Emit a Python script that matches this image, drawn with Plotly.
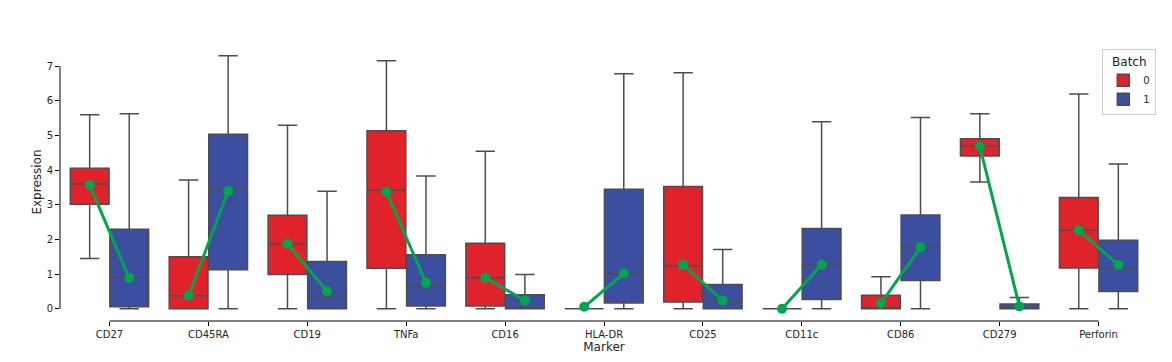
import plotly.graph_objects as go

# marker names on the x axis
markers = ["CD27", "CD45RA", "CD19", "TNFa", "CD16", "HLA-DR", "CD25",
           "CD11c", "CD86", "CD279", "Perforin"]

# batch 0 box stats
b0_low = [1.45, 0, 0, 0, 0, 0, 0, 0, 0, 3.66, 0]
b0_q1 = [3.02, 0, 0.99, 1.17, 0.08, 0, 0.20, 0, 0, 4.41, 1.18]
b0_med = [3.60, 0.38, 1.88, 3.42, 0.90, 0, 1.24, 0, 0, 4.69, 2.27]
b0_q3 = [4.06, 1.50, 2.70, 5.14, 1.89, 0, 3.53, 0, 0.39, 4.91, 3.21]
b0_high = [5.60, 3.72, 5.30, 7.16, 4.55, 0, 6.81, 0, 0.93, 5.63, 6.20]

# batch 1 box stats
b1_low = [0, 0, 0, 0, 0, 0, 0, 0, 0, 0, 0]
b1_q1 = [0.06, 1.13, 0, 0.08, 0, 0.17, 0, 0.27, 0.82, 0, 0.50]
b1_med = [0.93, 3.42, 0.36, 0.65, 0, 1.01, 0.20, 1.27, 1.78, 0, 1.18]
b1_q3 = [2.30, 5.04, 1.37, 1.56, 0.41, 3.45, 0.70, 2.32, 2.71, 0.14, 1.98]
b1_high = [5.63, 7.30, 3.39, 3.83, 0.99, 6.78, 1.71, 5.40, 5.52, 0.33, 4.18]

# green point estimates per batch
pt0 = [3.57, 0.38, 1.88, 3.38, 0.90, 0.06, 1.27, 0.0, 0.16, 4.69, 2.27]
pt1 = [0.89, 3.40, 0.51, 0.75, 0.24, 1.02, 0.24, 1.27, 1.78, 0.07, 1.27]

red = "#e0232a"
blue = "#3c4ea0"
green = "#00a550"
edge = "#4d4d4d"
dodge = 0.2
bw = 0.392

pos = list(range(len(markers)))
x0 = [p - dodge for p in pos]
x1 = [p + dodge for p in pos]

fig = go.Figure()
for name, xs, lo, q1, md, q3, hi, col in [
    ("0", x0, b0_low, b0_q1, b0_med, b0_q3, b0_high, red),
    ("1", x1, b1_low, b1_q1, b1_med, b1_q3, b1_high, blue),
]:
    fig.add_trace(go.Box(
        name=name, x=xs, lowerfence=lo, q1=q1, median=md, q3=q3, upperfence=hi,
        width=bw, whiskerwidth=0.5, boxpoints=False,
        fillcolor=col, line=dict(color=edge, width=1.5),
        hoverinfo="skip",
    ))

# green lines joining the two batches for each marker
lx, ly = [], []
for a, b, v0, v1 in zip(x0, x1, pt0, pt1):
    lx += [a, b, None]
    ly += [v0, v1, None]
fig.add_trace(go.Scatter(
    x=lx, y=ly, mode="lines+markers", showlegend=False,
    line=dict(color=green, width=3), marker=dict(color=green, size=10),
))

# trimmed spines
fig.add_shape(type="line", xref="x", yref="paper", x0=pos[0], x1=pos[-1],
              y0=0, y1=0, line=dict(color="black", width=1))
fig.add_shape(type="line", xref="paper", yref="y", x0=0, x1=0,
              y0=0, y1=7, line=dict(color="black", width=1))

# page body adds ~8px, margins compensate for it
fig.update_layout(
    width=1172, height=362,
    margin=dict(l=52, r=32, t=35, b=49),
    plot_bgcolor="white", paper_bgcolor="white",
    font=dict(family="DejaVu Sans", size=10, color="#262626"),
    legend=dict(
        title=dict(text="Batch", side="top center"),
        x=0.958, y=0.978, xanchor="left", yanchor="top",
        bordercolor="#cccccc", borderwidth=1, bgcolor="white",
        font=dict(size=10), tracegroupgap=0, itemwidth=30,
    ),
    showlegend=True,
)
fig.update_xaxes(
    range=[-0.5, 10.5], tickvals=pos, ticktext=markers,
    showgrid=False, zeroline=False, showline=False, automargin=False,
    ticks="outside", ticklen=4, tickcolor="black",
    title=dict(text="Marker", standoff=2),
)
fig.update_yaxes(
    range=[-0.35, 7.67], tickvals=list(range(8)),
    showgrid=False, zeroline=False, showline=False, automargin=False,
    ticks="outside", ticklen=4, tickcolor="black",
    title=dict(text="Expression", standoff=2),
)

fig.write_html("out.html")
